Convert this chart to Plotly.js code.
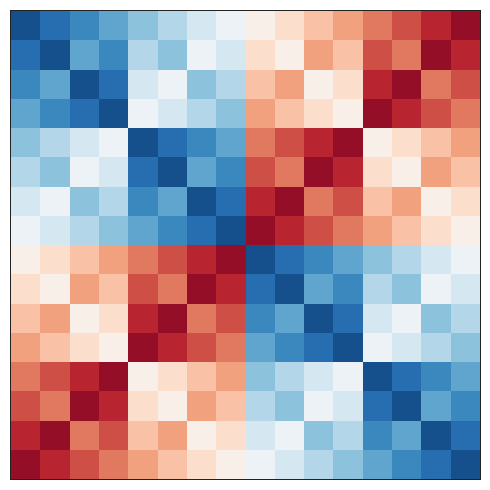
<!DOCTYPE html>
<html>
<head>
<meta charset="utf-8">
<script src="https://cdn.plot.ly/plotly-3.0.1.min.js"></script>
<style>html,body{margin:0;padding:0;background:#fff;}#chart{width:490px;height:490px;}</style>
</head>
<body>
<div id="chart"></div>
<script>
const cols = [0,1,2,3,4,5,6,7,8,9,10,11,12,13,14,15];
const rowsIdx = [0,1,2,3,4,5,6,7,8,9,10,11,12,13,14,15];
const row0  = [0,1,2,3,4,5,6,7,8,9,10,11,12,13,14,15];
const row1  = [1,0,3,2,5,4,7,6,9,8,11,10,13,12,15,14];
const row2  = [2,3,0,1,6,7,4,5,10,11,8,9,14,15,12,13];
const row3  = [3,2,1,0,7,6,5,4,11,10,9,8,15,14,13,12];
const row4  = [4,5,6,7,0,1,2,3,12,13,14,15,8,9,10,11];
const row5  = [5,4,7,6,1,0,3,2,13,12,15,14,9,8,11,10];
const row6  = [6,7,4,5,2,3,0,1,14,15,12,13,10,11,8,9];
const row7  = [7,6,5,4,3,2,1,0,15,14,13,12,11,10,9,8];
const row8  = [8,9,10,11,12,13,14,15,0,1,2,3,4,5,6,7];
const row9  = [9,8,11,10,13,12,15,14,1,0,3,2,5,4,7,6];
const row10 = [10,11,8,9,14,15,12,13,2,3,0,1,6,7,4,5];
const row11 = [11,10,9,8,15,14,13,12,3,2,1,0,7,6,5,4];
const row12 = [12,13,14,15,8,9,10,11,4,5,6,7,0,1,2,3];
const row13 = [13,12,15,14,9,8,11,10,5,4,7,6,1,0,3,2];
const row14 = [14,15,12,13,10,11,8,9,6,7,4,5,2,3,0,1];
const row15 = [15,14,13,12,11,10,9,8,7,6,5,4,3,2,1,0];
const z = [row0,row1,row2,row3,row4,row5,row6,row7,row8,row9,row10,row11,row12,row13,row14,row15];

const rdbu_r = [
  [0.0,'#053061'],[0.1,'#2166ac'],[0.2,'#4393c3'],[0.3,'#92c5de'],[0.4,'#d1e5f0'],
  [0.5,'#f7f7f7'],[0.6,'#fddbc7'],[0.7,'#f4a582'],[0.8,'#d6604d'],[0.9,'#b2182b'],[1.0,'#67001f']
];

Plotly.newPlot('chart', [{
  type: 'heatmap',
  x: cols, y: rowsIdx, z: z,
  colorscale: rdbu_r, zmin: -1, zmax: 16,
  showscale: false, hoverinfo: 'none'
}], {
  width: 490, height: 490,
  margin: {l: 11, r: 10, t: 11, b: 11, pad: 0},
  paper_bgcolor: '#fff', plot_bgcolor: '#fff',
  xaxis: {range: [-0.5, 15.5], showticklabels: false, ticks: '', showgrid: false, zeroline: false,
          showline: true, mirror: true, linecolor: '#222', linewidth: 1},
  yaxis: {range: [15.5, -0.5], showticklabels: false, ticks: '', showgrid: false, zeroline: false,
          showline: true, mirror: true, linecolor: '#222', linewidth: 1}
}, {staticPlot: true});
</script>
</body>
</html>
